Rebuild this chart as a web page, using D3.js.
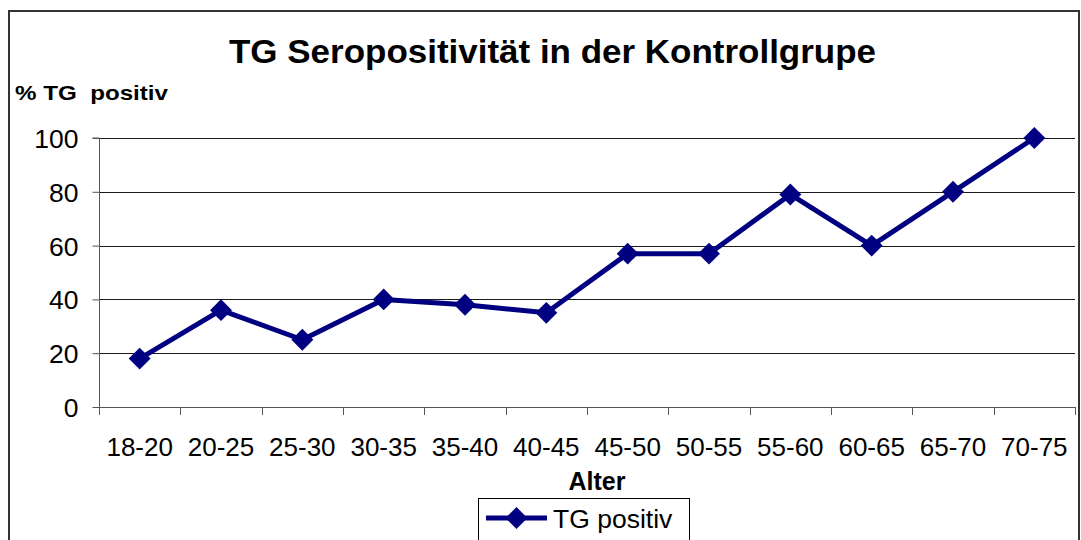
<!DOCTYPE html>
<html><head><meta charset="utf-8">
<script src="https://cdn.jsdelivr.net/npm/d3@7"></script>
<style>body{margin:0;background:#fff}svg{display:block;font-family:"Liberation Sans",Arial,sans-serif}</style>
</head><body>
<svg id="c" width="1081" height="540"></svg>
<script>
const categories = ["18-20","20-25","25-30","30-35","35-40","40-45","45-50","50-55","55-60","60-65","65-70","70-75"];
const values = [18,36,25,40,38,35,57,57,79,60,80,100];
const yTicks = [0,20,40,60,80,100];
const seriesName = "TG positiv";
const titleText = "TG Seropositivität in der Kontrollgrupe";
const yLabelText = "% TG  positiv";
const xLabelText = "Alter";

const svg = d3.select("#c");
const L = 99, R = 1075, T = 138, B = 407;
const navy = "#000080";

// outer frame
svg.append("rect").attr("x",9).attr("y",11).attr("width",1070).attr("height",540)
  .attr("fill","none").attr("stroke","#333").attr("stroke-width",2);

const x = d3.scaleBand().domain(categories).range([L,R]);
const y = d3.scaleLinear().domain([0,100]).range([B,T]);

// gridlines
svg.append("g").selectAll("line").data(yTicks.filter(d=>d>0)).join("line")
  .attr("x1",L).attr("x2",R).attr("y1",d=>Math.round(y(d))+0.5).attr("y2",d=>Math.round(y(d))+0.5)
  .attr("stroke","#1a1a1a").attr("stroke-width",1);

// y axis
const ya = svg.append("g").attr("transform",`translate(${L+0.5},0)`)
  .call(d3.axisLeft(y).tickValues(yTicks).tickSize(7).tickPadding(14));
ya.select(".domain").attr("stroke","#555").attr("d",`M-7,${T}H0V${B}`);
ya.selectAll(".tick line").attr("stroke","#555");
ya.selectAll("text").attr("font-size",26.5).attr("fill","#000").attr("dy","0.36em")
  .attr("font-family","Liberation Sans, Arial, sans-serif");

// x axis
const xa = svg.append("g").attr("transform",`translate(0,${B+0.5})`)
  .call(d3.axisBottom(x).tickSize(0).tickPadding(0));
xa.select(".domain").attr("stroke","#555").attr("d",`M${L},0H${R}`);
xa.selectAll(".tick line").remove();
xa.selectAll(".tick text").attr("font-size",26).attr("fill","#000").attr("y",48.5).attr("dy",0)
  .attr("font-family","Liberation Sans, Arial, sans-serif");
// category boundary ticks
const bounds = categories.map(c=>x(c)).concat([R]);
svg.append("g").selectAll("line").data(bounds).join("line")
  .attr("x1",d=>Math.round(d)+0.5).attr("x2",d=>Math.round(d)+0.5).attr("y1",B).attr("y2",B+8)
  .attr("stroke","#555");

// line
const cx = d => x(d) + x.bandwidth()/2;
svg.append("path").datum(values)
  .attr("d", d3.line().x((d,i)=>cx(categories[i])).y(d=>y(d)))
  .attr("fill","none").attr("stroke",navy).attr("stroke-width",5).attr("stroke-linejoin","round");

const diamond = d3.symbol().type(d3.symbolSquare).size(240);
svg.append("g").selectAll("path").data(values).join("path")
  .attr("d",diamond)
  .attr("transform",(d,i)=>`translate(${cx(categories[i])},${y(d)}) rotate(45)`)
  .attr("fill",navy);

// title
svg.append("text").attr("x",552.5).attr("y",63).attr("text-anchor","middle")
  .attr("font-size",33).attr("font-weight","bold").attr("textLength",647).attr("lengthAdjust","spacingAndGlyphs")
  .text(titleText);
// y label
svg.append("text").attr("x",15).attr("y",100).attr("font-size",21).attr("font-weight","bold")
  .attr("xml:space","preserve").style("white-space","pre").attr("textLength",153).attr("lengthAdjust","spacingAndGlyphs")
  .text(yLabelText);
// x label
svg.append("text").attr("x",597).attr("y",490).attr("text-anchor","middle")
  .attr("font-size",25).attr("font-weight","bold").text(xLabelText);

// legend
svg.append("rect").attr("x",478.5).attr("y",498.5).attr("width",211).attr("height",60)
  .attr("fill","#fff").attr("stroke","#000").attr("stroke-width",1);
svg.append("line").attr("x1",486).attr("x2",547).attr("y1",518).attr("y2",518)
  .attr("stroke",navy).attr("stroke-width",5);
svg.append("path").attr("d",diamond).attr("transform","translate(516.5,518) rotate(45)").attr("fill",navy);
svg.append("text").attr("x",553).attr("y",528).attr("font-size",26.5).text(seriesName);
</script>
</body></html>
